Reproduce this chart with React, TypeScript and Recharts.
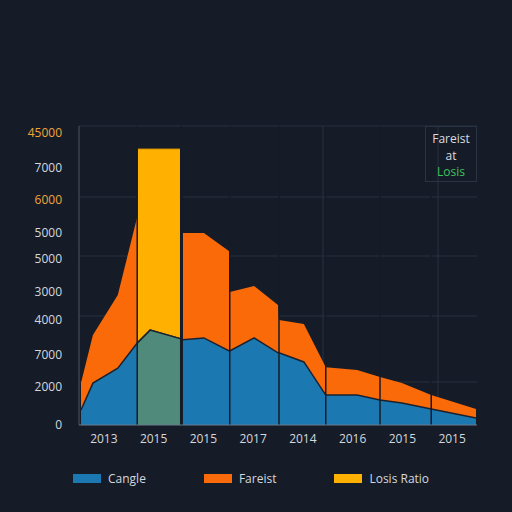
import { ComposedChart, Area, XAxis, YAxis, CartesianGrid, ReferenceLine } from "recharts";

// x positions of the outline vertices (axis runs 0..8)
const xPos = [0.04, 0.28, 0.78, 1.17, 1.43, 2.05, 2.09, 2.51, 3.02, 3.03, 3.52, 4.0, 4.02, 4.52, 4.96, 5.59, 6.05, 6.49, 7.08, 7.98];
const totalVals = [1290, 2770, 4000, 6400, null, null, 5910, 5910, 5350, 4090, 4280, 3690, 3230, 3110, 1780, 1690, 1480, 1290, 920, 490];
const baseVals = [460, 1290, 1750, 2520, 2920, 2650, 2620, 2680, 2280, 2280, 2680, 2220, 2220, 1940, 920, 920, 770, 680, 490, 215];
const peakVals = [null, null, null, 8490, 8490, 8490, null, null, null, null, null, null, null, null, null, null, null, null, null, null];
const peakBaseVals = [null, null, null, 2520, 2920, 2650, null, null, null, null, null, null, null, null, null, null, null, null, null, null];
const dividers = [1.17, 2.06, 3.03, 4.02, 4.96, 6.05, 7.08];

const xTicks = [0.5, 1.5, 2.5, 3.5, 4.5, 5.5, 6.5, 7.5];
const xTickLabels = ["2013", "2015", "2015", "2017", "2014", "2016", "2015", "2015"];
const yTickValues = [0, 1170, 2150, 3230, 4090, 5110, 5910, 6920, 7910, 8990];
const yTickLabels = ["0", "2000", "7000", "4000", "3000", "5000", "5000", "6000", "7000", "45000"];
const yTickHighlight = ["45000", "6000"];

const legendItems = [
  { name: "Cangle", color: "#1b78b0" },
  { name: "Fareist", color: "#fa6a0a" },
  { name: "Losis Ratio", color: "#ffb000" },
];

const data = xPos.map((x, i) => ({
  x,
  total: totalVals[i],
  base: baseVals[i],
  peak: peakVals[i],
  peakBase: peakBaseVals[i],
}));

const font = "'Open Sans', 'Liberation Sans', sans-serif";
const bg = "#161c27";

function YTick({ x, y, payload, index }: any) {
  const label = yTickLabels[index] ?? String(payload.value);
  const fill = yTickHighlight.includes(label) ? "#f0a53a" : "#d4d8de";
  return (
    <text x={x} y={y} dy={4} textAnchor="end" fontSize={12} fill={fill} fontFamily={font}>
      {label}
    </text>
  );
}

export default function App() {
  return (
    <div style={{ position: "fixed", left: 0, top: 0, width: 512, height: 512, background: bg, fontFamily: font }}>
      <ComposedChart width={512} height={512} data={data} margin={{ top: 126, right: 35, bottom: 57, left: 0 }}>
        <CartesianGrid stroke="#283140" horizontalPoints={[126, 197, 256, 316, 382]} verticalPoints={[323, 438]} />
        <XAxis
          type="number"
          dataKey="x"
          domain={[0, 8]}
          ticks={xTicks}
          tickFormatter={(_v: number, i: number) => xTickLabels[i]}
          tickLine={false}
          axisLine={{ stroke: "#6a7a8e" }}
          tick={{ fill: "#d4d8de", fontSize: 12, fontFamily: font }}
          height={30}
          tickMargin={3}
        />
        <YAxis
          type="number"
          domain={[0, 9200]}
          ticks={yTickValues}
          tick={<YTick />}
          tickLine={false}
          axisLine={{ stroke: "#4a5566" }}
          width={79}
          tickMargin={11}
        />
        <Area type="linear" dataKey="total" fill="#fb6a08" fillOpacity={1} stroke="none" connectNulls dot={false} activeDot={false} isAnimationActive={false} />
        <Area type="linear" dataKey="peak" fill="#ffb000" fillOpacity={1} stroke="#d99500" strokeWidth={1} dot={false} activeDot={false} isAnimationActive={false} />
        <Area type="linear" dataKey="base" fill="#1b78b0" fillOpacity={1} stroke="#1a2230" strokeWidth={1.5} dot={false} activeDot={false} isAnimationActive={false} />
        <Area type="linear" dataKey="peakBase" fill="#4f8a7b" fillOpacity={1} stroke="#1a2230" strokeWidth={1.5} dot={false} activeDot={false} isAnimationActive={false} />
        {dividers.map((d, i) => (
          <ReferenceLine key={i} x={d} stroke={bg} strokeWidth={i === 1 ? 3 : 1.5} />
        ))}
      </ComposedChart>

      <div
        style={{
          position: "absolute",
          left: 425,
          top: 126,
          width: 52,
          height: 56,
          border: "1px solid #2a3342",
          boxSizing: "border-box",
          textAlign: "center",
          fontSize: 12,
          lineHeight: "16.5px",
          paddingTop: 4,
          color: "#d8dce2",
        }}
      >
        <div>Fareist</div>
        <div>at</div>
        <div style={{ color: "#3ec35a" }}>Losis</div>
      </div>

      <div style={{ position: "absolute", left: 73, top: 470, display: "flex", gap: 58, alignItems: "center", fontSize: 12, color: "#d4d8de" }}>
        {legendItems.map((item) => (
          <div key={item.name} style={{ display: "flex", alignItems: "center", gap: 7 }}>
            <span style={{ display: "inline-block", width: 28, height: 9, background: item.color }} />
            <span>{item.name}</span>
          </div>
        ))}
      </div>
    </div>
  );
}
